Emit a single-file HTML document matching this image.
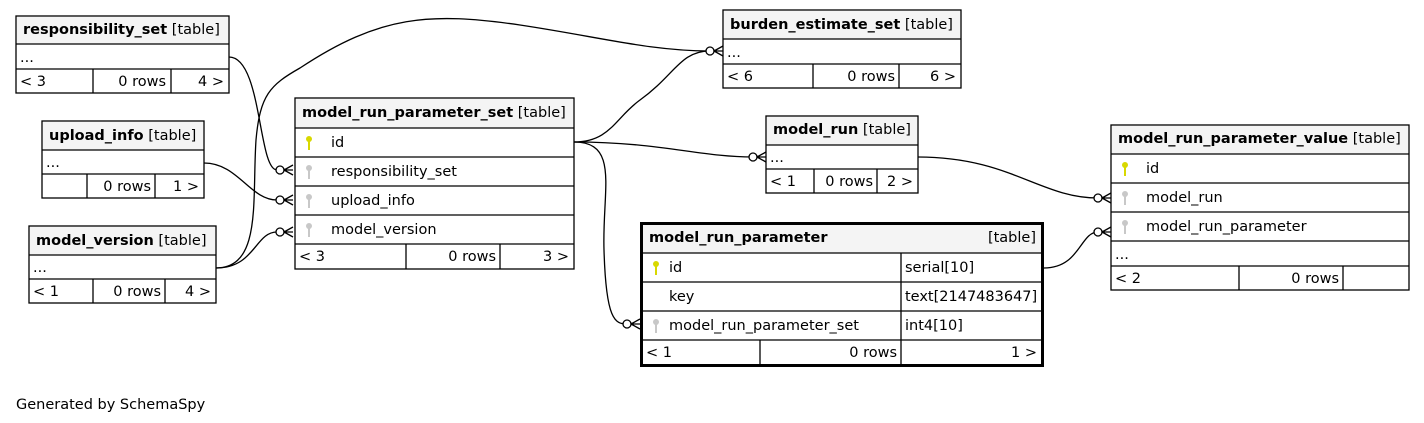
<!DOCTYPE html>
<html><head><meta charset="utf-8"><style>
html,body{margin:0;padding:0;background:#fff;width:1424px;height:423px;overflow:hidden}
svg{display:block}
text{font-family:"DejaVu Sans","Liberation Sans",sans-serif;font-size:14.5px;fill:#000}
.b{font-weight:bold}
.h{fill:#f4f4f4}
.bx{fill:#fff;stroke:#000;stroke-width:1.3}
.l{stroke:#000;stroke-width:1.3}
.e{fill:none;stroke:#000;stroke-width:1.3}
.ci{fill:#fff;stroke:#000;stroke-width:1.3}
</style></head><body>
<svg width="1424" height="423" viewBox="0 0 1424 423" xmlns="http://www.w3.org/2000/svg">
<defs>
<g id="ky"><circle cx="0" cy="-4" r="3"/><rect x="-1" y="-3" width="2" height="10"/></g>
<g id="cf"><circle class="ci" cx="-13" cy="0" r="4"/><path class="e" d="M-9,0 L0,0 M-9,0 L0,-5 M-9,0 L0,5"/></g>
</defs>

<!-- edges -->
<path class="e" d="M229,57 C262,57 258,170 277,170"/>
<path class="e" d="M204,163 C238,163 250,200 277,200"/>
<path class="e" d="M216,268 C255,268 255,232 277,232"/>
<path class="e" d="M216,268 C262,268 252,200 256,140 C260,95 270,85 300,68 C380,15 430,12 520,25 C600,37 650,51 710,51"/>
<path class="e" d="M574,142 C610,142 615,118 640,100 C675,75 680,51 710,51"/>
<path class="e" d="M574,142 C660,142 700,157 753,157"/>
<path class="e" d="M574,142 C620,142 602,190 604,250 C606,320 615,324 627,324"/>
<path class="e" d="M918,157 C1010,157 1040,198 1098,198"/>
<path class="e" d="M1044,268 C1080,268 1080,232 1098,232"/>
<use href="#cf" x="293" y="170"/>
<use href="#cf" x="293" y="200"/>
<use href="#cf" x="293" y="232"/>
<use href="#cf" x="723" y="51"/>
<use href="#cf" x="766" y="157"/>
<use href="#cf" x="640" y="324"/>
<use href="#cf" x="1111" y="198"/>
<use href="#cf" x="1111" y="232"/>

<!-- responsibility_set -->
<rect class="bx" x="16" y="16" width="213" height="77"/>
<rect class="h" x="17" y="17" width="211" height="27"/>
<line class="l" x1="16" y1="44" x2="229" y2="44"/><line class="l" x1="16" y1="69" x2="229" y2="69"/>
<line class="l" x1="93" y1="69" x2="93" y2="93"/><line class="l" x1="171" y1="69" x2="171" y2="93"/>
<text x="23" y="34"><tspan class="b">responsibility_set</tspan> [table]</text>
<text x="20" y="62">...</text>
<text x="20" y="86">&lt; 3</text><text x="166" y="86" text-anchor="end">0 rows</text><text x="224" y="86" text-anchor="end">4 &gt;</text>

<!-- upload_info -->
<rect class="bx" x="42" y="121" width="162" height="77"/>
<rect class="h" x="43" y="122" width="160" height="28"/>
<line class="l" x1="42" y1="150" x2="204" y2="150"/><line class="l" x1="42" y1="174" x2="204" y2="174"/>
<line class="l" x1="87" y1="174" x2="87" y2="198"/><line class="l" x1="155" y1="174" x2="155" y2="198"/>
<text x="49" y="140"><tspan class="b">upload_info</tspan> [table]</text>
<text x="46" y="167">...</text>
<text x="151" y="191" text-anchor="end">0 rows</text><text x="199" y="191" text-anchor="end">1 &gt;</text>

<!-- model_version -->
<rect class="bx" x="29" y="226" width="187" height="77"/>
<rect class="h" x="30" y="227" width="185" height="28"/>
<line class="l" x1="29" y1="255" x2="216" y2="255"/><line class="l" x1="29" y1="279" x2="216" y2="279"/>
<line class="l" x1="93" y1="279" x2="93" y2="303"/><line class="l" x1="165" y1="279" x2="165" y2="303"/>
<text x="36" y="245"><tspan class="b">model_version</tspan> [table]</text>
<text x="33" y="272">...</text>
<text x="33" y="296">&lt; 1</text><text x="161" y="296" text-anchor="end">0 rows</text><text x="211" y="296" text-anchor="end">4 &gt;</text>

<!-- model_run_parameter_set -->
<rect class="bx" x="295" y="98" width="279" height="171"/>
<rect class="h" x="296" y="99" width="277" height="29"/>
<line class="l" x1="295" y1="128" x2="574" y2="128"/><line class="l" x1="295" y1="157" x2="574" y2="157"/>
<line class="l" x1="295" y1="186" x2="574" y2="186"/><line class="l" x1="295" y1="215" x2="574" y2="215"/>
<line class="l" x1="295" y1="244" x2="574" y2="244"/>
<line class="l" x1="406" y1="244" x2="406" y2="269"/><line class="l" x1="500" y1="244" x2="500" y2="269"/>
<text x="302" y="117"><tspan class="b">model_run_parameter_set</tspan> [table]</text>
<use href="#ky" x="309" y="143" fill="#d8d800"/><text x="331" y="147">id</text>
<use href="#ky" x="309" y="172" fill="#c8c8c8"/><text x="331" y="176">responsibility_set</text>
<use href="#ky" x="309" y="201" fill="#c8c8c8"/><text x="331" y="205">upload_info</text>
<use href="#ky" x="309" y="230" fill="#c8c8c8"/><text x="331" y="234">model_version</text>
<text x="299" y="261">&lt; 3</text><text x="496" y="261" text-anchor="end">0 rows</text><text x="569" y="261" text-anchor="end">3 &gt;</text>

<!-- burden_estimate_set -->
<rect class="bx" x="723" y="10" width="238" height="78"/>
<rect class="h" x="724" y="11" width="236" height="28"/>
<line class="l" x1="723" y1="39" x2="961" y2="39"/><line class="l" x1="723" y1="64" x2="961" y2="64"/>
<line class="l" x1="813" y1="64" x2="813" y2="88"/><line class="l" x1="899" y1="64" x2="899" y2="88"/>
<text x="730" y="29"><tspan class="b">burden_estimate_set</tspan> [table]</text>
<text x="727" y="57">...</text>
<text x="727" y="81">&lt; 6</text><text x="895" y="81" text-anchor="end">0 rows</text><text x="956" y="81" text-anchor="end">6 &gt;</text>

<!-- model_run -->
<rect class="bx" x="766" y="116" width="152" height="77"/>
<rect class="h" x="767" y="117" width="150" height="28"/>
<line class="l" x1="766" y1="145" x2="918" y2="145"/><line class="l" x1="766" y1="169" x2="918" y2="169"/>
<line class="l" x1="814" y1="169" x2="814" y2="193"/><line class="l" x1="877" y1="169" x2="877" y2="193"/>
<text x="773" y="134"><tspan class="b">model_run</tspan> [table]</text>
<text x="770" y="162">...</text>
<text x="770" y="186">&lt; 1</text><text x="873" y="186" text-anchor="end">0 rows</text><text x="913" y="186" text-anchor="end">2 &gt;</text>

<!-- model_run_parameter -->
<rect x="641.5" y="223.5" width="401" height="142" fill="#fff" stroke="#000" stroke-width="3"/>
<rect class="h" x="643" y="225" width="398" height="28"/>
<line class="l" x1="641" y1="253" x2="1043" y2="253"/><line class="l" x1="641" y1="282" x2="1043" y2="282"/>
<line class="l" x1="641" y1="311" x2="1043" y2="311"/><line class="l" x1="641" y1="340" x2="1043" y2="340"/>
<line class="l" x1="901" y1="253" x2="901" y2="365"/><line class="l" x1="760" y1="340" x2="760" y2="365"/>
<text x="649" y="242" class="b">model_run_parameter</text><text x="1036" y="242" text-anchor="end">[table]</text>
<use href="#ky" x="656" y="268" fill="#d8d800"/><text x="669" y="272">id</text><text x="905" y="272">serial[10]</text>
<text x="669" y="301">key</text><text x="905" y="301">text[2147483647]</text>
<use href="#ky" x="656" y="326" fill="#c8c8c8"/><text x="669" y="330">model_run_parameter_set</text><text x="905" y="330">int4[10]</text>
<text x="646" y="357">&lt; 1</text><text x="897" y="357" text-anchor="end">0 rows</text><text x="1037" y="357" text-anchor="end">1 &gt;</text>

<!-- model_run_parameter_value -->
<rect class="bx" x="1111" y="125" width="298" height="165"/>
<rect class="h" x="1112" y="126" width="296" height="28"/>
<line class="l" x1="1111" y1="154" x2="1409" y2="154"/><line class="l" x1="1111" y1="183" x2="1409" y2="183"/>
<line class="l" x1="1111" y1="212" x2="1409" y2="212"/><line class="l" x1="1111" y1="241" x2="1409" y2="241"/>
<line class="l" x1="1111" y1="266" x2="1409" y2="266"/>
<line class="l" x1="1239" y1="266" x2="1239" y2="290"/><line class="l" x1="1343" y1="266" x2="1343" y2="290"/>
<text x="1118" y="143"><tspan class="b">model_run_parameter_value</tspan> [table]</text>
<use href="#ky" x="1125" y="169" fill="#d8d800"/><text x="1146" y="173">id</text>
<use href="#ky" x="1125" y="198" fill="#c8c8c8"/><text x="1146" y="202">model_run</text>
<use href="#ky" x="1125" y="227" fill="#c8c8c8"/><text x="1146" y="231">model_run_parameter</text>
<text x="1115" y="259">...</text>
<text x="1115" y="283">&lt; 2</text><text x="1339" y="283" text-anchor="end">0 rows</text>

<text x="16" y="409">Generated by SchemaSpy</text>
</svg>
</body></html>
